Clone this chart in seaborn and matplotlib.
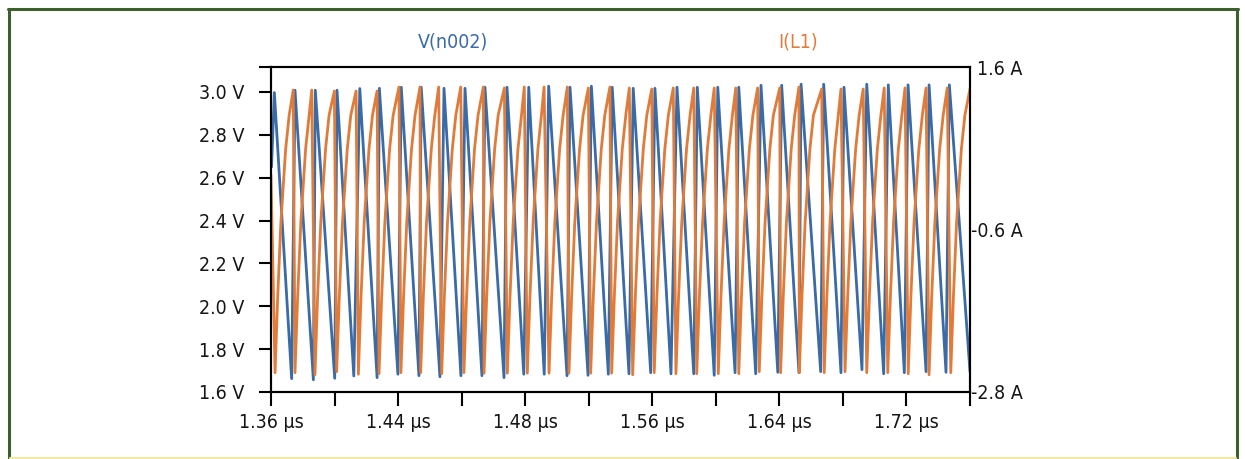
import matplotlib
matplotlib.use("Agg")
import matplotlib.pyplot as plt
from matplotlib import font_manager as fm
from matplotlib.lines import Line2D
import pandas as pd
import seaborn as sns

# ---- V(n002): node voltage, vertices of the sawtooth (time in µs, volts) ----
v_time = [
    1.3603, 1.3619, 1.3717, 1.3736, 1.3840, 1.3851, 1.3961, 1.3974, 1.4069, 1.4103,
    1.4201, 1.4214, 1.4319, 1.4338, 1.4438, 1.4451, 1.4557, 1.4580, 1.4676, 1.4699,
    1.4795, 1.4812, 1.4920, 1.4937, 1.5032, 1.5060, 1.5148, 1.5173, 1.5277, 1.5294,
    1.5396, 1.5415, 1.5511, 1.5533, 1.5628, 1.5652, 1.5751, 1.5775, 1.5866, 1.5900,
    1.5995, 1.6015, 1.6111, 1.6131, 1.6229, 1.6250, 1.6346, 1.6376, 1.6471, 1.6493,
    1.6591, 1.6603, 1.6714, 1.6731, 1.6829, 1.6846, 1.6948, 1.6975, 1.7071, 1.7097,
    1.7188, 1.7209, 1.7311, 1.7328, 1.7424, 1.7443, 1.7560,
]
v_node = [
    2.650, 2.997, 1.662, 3.008, 1.657, 3.008, 1.664, 3.008, 1.675, 3.016,
    1.667, 3.017, 1.683, 3.022, 1.676, 3.022, 1.671, 3.017, 1.676, 3.017,
    1.676, 3.022, 1.667, 3.022, 1.683, 3.022, 1.683, 3.027, 1.676, 3.022,
    1.678, 3.027, 1.683, 3.022, 1.685, 3.017, 1.690, 3.017, 1.685, 3.022,
    1.685, 3.022, 1.678, 3.022, 1.690, 3.022, 1.685, 3.031, 1.692, 3.031,
    1.690, 3.036, 1.695, 3.036, 1.690, 3.022, 1.704, 3.036, 1.685, 3.033,
    1.690, 3.033, 1.695, 3.033, 1.692, 3.033, 1.695,
]

# ---- I(L1): inductor current (time in µs, amperes), one row per switching cycle ----
i_time = [
    1.3600,
    1.3623, 1.3638, 1.3656, 1.3683, 1.3703, 1.3726,
    1.3736, 1.3751, 1.3769, 1.3796, 1.3816, 1.3831,
    1.3849, 1.3864, 1.3882, 1.3909, 1.3929, 1.3959,
    1.3972, 1.3987, 1.4005, 1.4032, 1.4052, 1.4082,
    1.4095, 1.4110, 1.4128, 1.4155, 1.4175, 1.4201,
    1.4212, 1.4227, 1.4245, 1.4272, 1.4292, 1.4325,
    1.4336, 1.4351, 1.4369, 1.4396, 1.4416, 1.4444,
    1.4448, 1.4463, 1.4481, 1.4508, 1.4528, 1.4550,
    1.4567, 1.4582, 1.4600, 1.4627, 1.4647, 1.4675,
    1.4693, 1.4708, 1.4726, 1.4753, 1.4773, 1.4803,
    1.4807, 1.4822, 1.4840, 1.4867, 1.4887, 1.4922,
    1.4939, 1.4954, 1.4972, 1.4999, 1.5019, 1.5035,
    1.5052, 1.5067, 1.5085, 1.5112, 1.5132, 1.5147,
    1.5175, 1.5190, 1.5208, 1.5235, 1.5255, 1.5279,
    1.5288, 1.5303, 1.5321, 1.5348, 1.5368, 1.5398,
    1.5411, 1.5426, 1.5444, 1.5471, 1.5491, 1.5520,
    1.5530, 1.5545, 1.5563, 1.5590, 1.5610, 1.5630,
    1.5649, 1.5664, 1.5682, 1.5709, 1.5729, 1.5757,
    1.5771, 1.5786, 1.5804, 1.5831, 1.5851, 1.5879,
    1.5894, 1.5909, 1.5927, 1.5954, 1.5974, 1.5995,
    1.6012, 1.6027, 1.6045, 1.6072, 1.6092, 1.6111,
    1.6134, 1.6149, 1.6167, 1.6194, 1.6214, 1.6233,
    1.6250, 1.6265, 1.6283, 1.6310, 1.6330, 1.6357,
    1.6366, 1.6381, 1.6399, 1.6426, 1.6446, 1.6482,
    1.6487, 1.6502, 1.6520, 1.6547, 1.6567, 1.6591,
    1.6593, 1.6608, 1.6626, 1.6653, 1.6673, 1.6720,
    1.6734, 1.6749, 1.6767, 1.6794, 1.6814, 1.6829,
    1.6852, 1.6867, 1.6885, 1.6912, 1.6932, 1.6955,
    1.6975, 1.6990, 1.7008, 1.7035, 1.7055, 1.7074,
    1.7094, 1.7109, 1.7127, 1.7154, 1.7174, 1.7192,
    1.7210, 1.7225, 1.7243, 1.7270, 1.7290, 1.7311,
    1.7328, 1.7343, 1.7361, 1.7388, 1.7408, 1.7431,
    1.7451, 1.7466, 1.7484, 1.7511, 1.7531, 1.7560,
]
i_inductor = [
    0.141,
    -2.538, -1.51, -0.50, 0.49, 0.95, 1.292,
    -2.538, -1.51, -0.50, 0.49, 0.95, 1.292,
    -2.566, -1.51, -0.50, 0.49, 0.95, 1.279,
    -2.525, -1.51, -0.50, 0.49, 0.95, 1.279,
    -2.560, -1.51, -0.50, 0.49, 0.95, 1.279,
    -2.552, -1.51, -0.50, 0.49, 0.95, 1.333,
    -2.538, -1.51, -0.50, 0.49, 0.95, 1.333,
    -2.538, -1.51, -0.50, 0.49, 0.95, 1.333,
    -2.552, -1.51, -0.50, 0.49, 0.95, 1.333,
    -2.538, -1.51, -0.50, 0.49, 0.95, 1.333,
    -2.545, -1.51, -0.50, 0.49, 0.95, 1.320,
    -2.545, -1.51, -0.50, 0.49, 0.95, 1.333,
    -2.545, -1.51, -0.50, 0.49, 0.95, 1.333,
    -2.545, -1.51, -0.50, 0.49, 0.95, 1.333,
    -2.545, -1.51, -0.50, 0.49, 0.95, 1.320,
    -2.545, -1.51, -0.50, 0.49, 0.95, 1.333,
    -2.545, -1.51, -0.50, 0.49, 0.95, 1.320,
    -2.566, -1.51, -0.50, 0.49, 0.95, 1.306,
    -2.538, -1.51, -0.50, 0.49, 0.95, 1.320,
    -2.552, -1.51, -0.50, 0.49, 0.95, 1.320,
    -2.552, -1.51, -0.50, 0.49, 0.95, 1.320,
    -2.552, -1.51, -0.50, 0.49, 0.95, 1.320,
    -2.552, -1.51, -0.50, 0.49, 0.95, 1.320,
    -2.525, -1.51, -0.50, 0.49, 0.95, 1.320,
    -2.538, -1.51, -0.50, 0.49, 0.95, 1.333,
    -2.538, -1.51, -0.50, 0.49, 0.95, 1.306,
    -2.538, -1.51, -0.50, 0.49, 0.95, 1.306,
    -2.525, -1.51, -0.50, 0.49, 0.95, 1.306,
    -2.538, -1.51, -0.50, 0.49, 0.95, 1.320,
    -2.538, -1.51, -0.50, 0.49, 0.95, 1.320,
    -2.552, -1.51, -0.50, 0.49, 0.95, 1.320,
    -2.566, -1.51, -0.50, 0.49, 0.95, 1.320,
    -2.538, -1.51, -0.50, 0.49, 0.95, 1.310,
]

# ---- axis ticks and labels ----
x_ticks = [1.360, 1.396, 1.432, 1.468, 1.504, 1.540,
           1.576, 1.612, 1.648, 1.684, 1.720, 1.756]
x_labels = ["1.36 µs", "", "1.44 µs", "", "1.48 µs", "",
            "1.56 µs", "", "1.64 µs", "", "1.72 µs", ""]
v_ticks = [1.6, 1.8, 2.0, 2.2, 2.4, 2.6, 2.8, 3.0, 3.115]
v_labels = ["1.6 V", "1.8 V", "2.0 V", "2.2 V", "2.4 V", "2.6 V", "2.8 V", "3.0 V", ""]
i_ticks = [-2.8, -0.6, 1.6]
i_labels = ["-2.8 A", "-0.6 A", "1.6 A"]
series_names = ["V(n002)", "I(L1)"]

BLUE = "#3a6ba6"
ORANGE = "#e07b39"
TEXT = "#151515"


def narrow_font():
    """Pick an installed condensed/narrow sans face, regular weight, upright."""
    wanted = ["Liberation Sans Narrow", "DejaVu Sans", "Noto Sans",
              "Roboto", "Open Sans", "Roboto Condensed", "Noto Sans Condensed"]
    found = []
    for f in fm.fontManager.ttflist:
        narrow = (str(f.stretch) in ("condensed", "semi-condensed", "extra-condensed")
                  or "Narrow" in f.name or "Condensed" in f.name
                  or "Condensed" in f.fname or "Narrow" in f.fname)
        if not narrow or f.style != "normal":
            continue
        if f.weight not in (400, "normal", "regular", "book"):
            continue
        rank = wanted.index(f.name) if f.name in wanted else len(wanted)
        found.append((rank, f.fname))
    if found:
        found.sort()
        return fm.FontProperties(fname=found[0][1])
    return fm.FontProperties(family=["Liberation Sans", "DejaVu Sans"])


sns.set_theme(style="ticks")
plt.rcParams["font.family"] = ["Liberation Sans", "DejaVu Sans"]
plt.rcParams["axes.linewidth"] = 1.5
FONT = narrow_font()
FONT.set_size(14)

fig = plt.figure(figsize=(12.45, 4.59), dpi=100)
fig.patch.set_facecolor("white")
ax = fig.add_axes([0.21767, 0.14597, 0.56145, 0.70741])
ax.set_facecolor("white")
ax2 = ax.twinx()

df_v = pd.DataFrame({"t": v_time, "v": v_node})
df_i = pd.DataFrame({"t": i_time, "i": i_inductor})

sns.lineplot(data=df_v, x="t", y="v", ax=ax, color=BLUE, linewidth=2.0,
             estimator=None, sort=False)
sns.lineplot(data=df_i, x="t", y="i", ax=ax2, color=ORANGE, linewidth=2.0,
             estimator=None, sort=False)

ax.set_xlim(1.36, 1.756)
ax.set_ylim(1.6, 3.115)
ax2.set_ylim(-2.8, 1.6)

for a in (ax, ax2):
    a.set_xlabel("")
    a.set_ylabel("")
    for s in a.spines.values():
        s.set_color("black")
        s.set_linewidth(1.5)

ax.set_xticks(x_ticks)
ax.set_xticklabels(x_labels)
ax.set_yticks(v_ticks)
ax.set_yticklabels(v_labels)
ax.tick_params(axis="x", length=10, width=1.5, color="black", pad=5, labelcolor=TEXT)
ax.tick_params(axis="y", length=9, width=1.5, color="black", pad=10, labelcolor=TEXT)

ax2.set_yticks(i_ticks)
ax2.set_yticklabels(i_labels)
ax2.tick_params(axis="y", length=0, pad=38, labelcolor=TEXT)

for lbl in ax.get_xticklabels() + ax.get_yticklabels():
    lbl.set_fontproperties(FONT)
for lbl in ax2.get_yticklabels():
    lbl.set_fontproperties(FONT)
    lbl.set_horizontalalignment("right")

# series names above the plot
fig.text(453 / 1245, 1 - 42 / 459, series_names[0], color=BLUE,
         fontproperties=FONT, ha="center", va="center")
fig.text(798 / 1245, 1 - 42 / 459, series_names[1], color=ORANGE,
         fontproperties=FONT, ha="center", va="center")

# outer frame: green on three sides, pale yellow rule along the bottom
W, H = 1245, 459
green = "#3d5f2e"
fig.add_artist(Line2D([8.5 / W, 8.5 / W], [0, 1 - 8.5 / H], color=green, lw=2.2,
                      transform=fig.transFigure))
fig.add_artist(Line2D([7.5 / W, 1237.5 / W], [1 - 8.5 / H, 1 - 8.5 / H], color=green,
                      lw=2.2, transform=fig.transFigure))
fig.add_artist(Line2D([1237 / W, 1237 / W], [0, 1 - 8.5 / H], color=green, lw=2.2,
                      transform=fig.transFigure))
fig.add_artist(Line2D([10 / W, 1236 / W], [1.5 / H, 1.5 / H], color="#f2e8a6", lw=1.5,
                      transform=fig.transFigure))

fig.savefig("out.png", dpi=100, facecolor="white")
